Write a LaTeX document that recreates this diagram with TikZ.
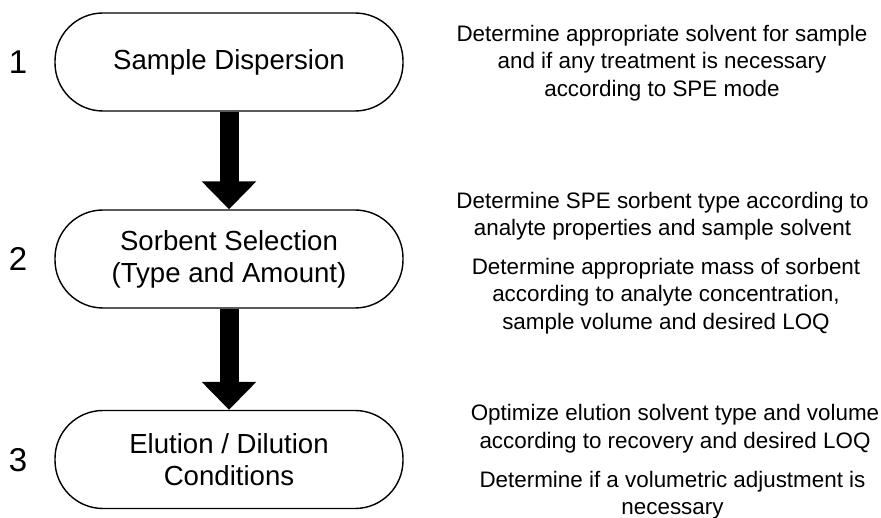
\documentclass[tikz,border=0pt]{standalone}
\usepackage{fontspec}
\setmainfont{Liberation Sans}
\usetikzlibrary{arrows.meta}
\begin{document}
\begin{tikzpicture}[x=1pt,y=-1pt,
  stage/.style={draw, line width=1.4pt, rounded corners=48pt,
    minimum width=348pt, minimum height=98pt, align=center,
    font=\fontsize{27.6}{32}\selectfont, inner sep=0pt},
  stepnum/.style={font=\fontsize{33}{36}\selectfont, inner sep=0pt},
  note/.style={align=center, font=\fontsize{22.4}{27.5}\selectfont, inner sep=0pt},
  flow/.style={line width=19pt, -{Triangle[width=53pt,length=28pt]}}]
  \useasboundingbox (0,0) rectangle (881,518);

  % process stages
  \node[stage] (s1) at (229,62)    {Sample Dispersion};
  \node[stage] (s2) at (229,259)   {Sorbent Selection\\(Type and Amount)};
  \node[stage] (s3) at (229,459.5) {Elution / Dilution\\Conditions};

  % stage numbers
  \node[stepnum] (n1) at (18,62)  {1};
  \node[stepnum] (n2) at (18,259) {2};
  \node[stepnum] (n3) at (18,460) {3};

  % block arrows between stages
  \draw[flow] (s1.south) -- (s2.north);
  \draw[flow] (s2.south) -- (s3.north);

  % explanatory notes
  \node[note] (t1)  at (662,63)    {Determine appropriate solvent for sample\\and if any treatment is necessary\\according to SPE mode};
  \node[note] (t2a) at (662.5,216) {Determine SPE sorbent type according to\\analyte properties and sample solvent};
  \node[note] (t2b) at (666,296)   {Determine appropriate mass of sorbent\\according to analyte concentration,\\sample volume and desired LOQ};
  \node[note] (t3a) at (675,428.5) {Optimize elution solvent type and volume\\according to recovery and desired LOQ};
  \node[note] (t3b) at (672.5,495) {Determine if a volumetric adjustment is\\necessary};
\end{tikzpicture}
\end{document}
